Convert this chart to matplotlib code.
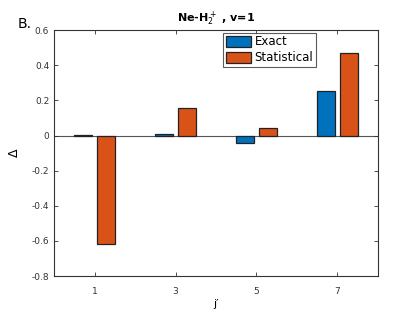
import matplotlib
matplotlib.use("Agg")
from matplotlib import pyplot as plt
import numpy as np

j_levels = [1, 3, 5, 7]
exact = [0.002, 0.006, -0.045, 0.255]
statistical = [-0.62, 0.155, 0.045, 0.47]

blue = "#0072BD"
orange = "#D95319"

fig = plt.figure(figsize=(4.19, 3.14), dpi=100)
ax = fig.add_axes([0.129, 0.121, 0.773, 0.783])

x = np.array(j_levels, dtype=float)
w = 0.45
ax.bar(x - 0.29, exact, width=w, color=blue, edgecolor="#222222", linewidth=0.9, label="Exact")
ax.bar(x + 0.29, statistical, width=w, color=orange, edgecolor="#222222", linewidth=0.9, label="Statistical")
ax.axhline(0, color="#555555", linewidth=0.8, zorder=0)

ax.set_xlim(0, 8)
ax.set_ylim(-0.8, 0.6)
ax.set_xticks(j_levels)
ax.set_yticks(np.arange(-0.8, 0.61, 0.2))
ax.set_yticklabels(["-0.8", "-0.6", "-0.4", "-0.2", "0", "0.2", "0.4", "0.6"])
ax.tick_params(direction="in", top=True, right=True, labelsize=6.5, length=3, width=0.6, colors="#333333")
ax.tick_params(axis="x", pad=8)
for s in ax.spines.values():
    s.set_linewidth(0.8)
    s.set_color("#333333")

ax.set_xlabel("j\u2032", fontsize=8, labelpad=2)
ax.set_ylabel("\u0394", fontsize=9, labelpad=8)
ax.set_title(r"Ne-H$_2^+$ , v=1", fontsize=8, fontweight="bold", pad=6)

leg = ax.legend(loc="upper left", bbox_to_anchor=(0.515, 1.0), fontsize=8.5, frameon=True, fancybox=False,
                edgecolor="#333333", handlelength=2.1, handleheight=1.1, borderpad=0.25,
                labelspacing=0.25, handletextpad=0.3, borderaxespad=0.2)
leg.get_frame().set_linewidth(0.8)

fig.text(0.043, 0.91, "B.", fontsize=10)

fig.savefig("out.png", dpi=100)
